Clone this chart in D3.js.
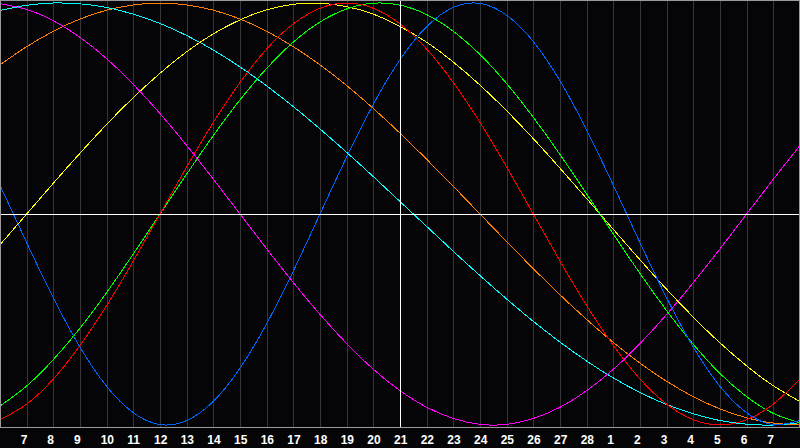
<!DOCTYPE html>
<html>
<head>
<meta charset="utf-8">
<script src="https://cdn.jsdelivr.net/npm/d3@7"></script>
<style>
  html, body { margin: 0; padding: 0; background: #050507; }
  svg { display: block; }
  .lbl { font-family: "Liberation Sans", Arial, sans-serif; font-weight: bold; font-size: 12px; fill: #ffffff; }
</style>
</head>
<body>
<svg id="chart" width="800" height="448"></svg>
<script>
// day labels under each grid line (Feb 7 .. Mar 7)
const days = [7, 8, 9, 10, 11, 12, 13, 14, 15, 16, 17, 18, 19, 20, 21,
              22, 23, 24, 25, 26, 27, 28, 1, 2, 3, 4, 5, 6, 7];

// cycle values read at each grid step (index 0 = left edge, 30 = right edge)
const physical = [0.136, -0.136, -0.398, -0.631, -0.817, -0.942, -0.998, -0.979, -0.888, -0.731,
  -0.520, -0.270, 0, 0.270, 0.520, 0.731, 0.888, 0.979, 0.998, 0.942,
  0.817, 0.631, 0.398, 0.136, -0.136, -0.398, -0.631, -0.817, -0.942, -0.998, -0.979];
const emotional = [-0.975, -0.901, -0.782, -0.623, -0.434, -0.223, 0, 0.223, 0.434, 0.623,
  0.782, 0.901, 0.975, 1.0, 0.975, 0.901, 0.782, 0.623, 0.434, 0.223,
  0, -0.223, -0.434, -0.623, -0.782, -0.901, -0.975, -1.0, -0.975, -0.901, -0.782];
const intellectual = [-0.910, -0.815, -0.690, -0.541, -0.372, -0.189, 0, 0.189, 0.372, 0.541,
  0.690, 0.815, 0.910, 0.972, 0.999, 0.990, 0.945, 0.866, 0.756, 0.618,
  0.458, 0.282, 0.095, -0.095, -0.282, -0.458, -0.618, -0.756, -0.866, -0.945, -0.990];
const intuitive = [0.997, 0.969, 0.916, 0.837, 0.736, 0.614, 0.476, 0.325, 0.165, 0,
  -0.165, -0.325, -0.476, -0.614, -0.736, -0.837, -0.916, -0.969, -0.997, -0.997,
  -0.969, -0.916, -0.837, -0.736, -0.614, -0.476, -0.325, -0.165, 0, 0.165, 0.325];
const aesthetic = [-0.146, 0, 0.146, 0.288, 0.425, 0.552, 0.667, 0.769, 0.854, 0.920,
  0.968, 0.994, 0.999, 0.983, 0.947, 0.889, 0.814, 0.720, 0.611, 0.489,
  0.357, 0.217, 0.073, -0.073, -0.217, -0.357, -0.489, -0.611, -0.720, -0.814, -0.889];
const awareness = [0.707, 0.793, 0.866, 0.924, 0.966, 0.991, 1.0, 0.991, 0.966, 0.924,
  0.866, 0.793, 0.707, 0.609, 0.500, 0.383, 0.259, 0.131, 0, -0.131,
  -0.259, -0.383, -0.500, -0.609, -0.707, -0.793, -0.866, -0.924, -0.966, -0.991, -1.0];
const spiritual = [0.965, 0.989, 1.0, 0.996, 0.979, 0.947, 0.903, 0.846, 0.777, 0.697,
  0.607, 0.509, 0.403, 0.292, 0.177, 0.059, -0.059, -0.177, -0.292, -0.403,
  -0.509, -0.607, -0.697, -0.777, -0.846, -0.903, -0.947, -0.979, -0.996, -1.0, -0.989];

const seriesList = [
  { name: 'awareness', values: awareness, color: '#ff8000' },
  { name: 'spiritual', values: spiritual, color: '#00ffff' },
  { name: 'intuitive', values: intuitive, color: '#ff00ff' },
  { name: 'aesthetic', values: aesthetic, color: '#ffff00' },
  { name: 'intellectual', values: intellectual, color: '#00ff00' },
  { name: 'emotional', values: emotional, color: '#ff0000' },
  { name: 'physical', values: physical, color: '#0064ff' }
];

const width = 800;
const plotBottom = 427;

const svg = d3.select('#chart');

const x = d3.scaleLinear().domain([0, 30]).range([0, width]);
const y = d3.scaleLinear().domain([-1, 1]).range([425, 3]);

svg.append('rect')
  .attr('x', 0).attr('y', 0)
  .attr('width', width).attr('height', 448)
  .attr('fill', '#050507');

svg.append('clipPath').attr('id', 'plotClip')
  .append('rect')
  .attr('x', 0).attr('y', 0)
  .attr('width', width).attr('height', plotBottom);

// vertical day grid
const gridIdx = d3.range(1, days.length + 1);
svg.append('g')
  .selectAll('line')
  .data(gridIdx)
  .enter().append('line')
  .attr('x1', d => Math.round(x(d)) + 0.5)
  .attr('x2', d => Math.round(x(d)) + 0.5)
  .attr('y1', 0)
  .attr('y2', plotBottom)
  .attr('stroke', '#363636')
  .attr('stroke-width', 1);

// curves
const line = d3.line()
  .x((d, i) => x(i))
  .y(d => y(d))
  .curve(d3.curveNatural);

svg.append('g')
  .attr('clip-path', 'url(#plotClip)')
  .selectAll('path')
  .data(seriesList)
  .enter().append('path')
  .attr('d', d => line(d.values))
  .attr('fill', 'none')
  .attr('stroke', d => d.color)
  .attr('stroke-width', 1)
  .attr('shape-rendering', 'crispEdges');

// center axes (today + zero line)
svg.append('line')
  .attr('x1', 0).attr('x2', width)
  .attr('y1', y(0) + 0.5).attr('y2', y(0) + 0.5)
  .attr('stroke', '#ffffff').attr('stroke-width', 1);

svg.append('line')
  .attr('x1', Math.round(x(15)) + 0.5).attr('x2', Math.round(x(15)) + 0.5)
  .attr('y1', 0).attr('y2', plotBottom)
  .attr('stroke', '#ffffff').attr('stroke-width', 1);

// frame
svg.append('rect')
  .attr('x', 0.5).attr('y', 0.5)
  .attr('width', width - 1).attr('height', plotBottom)
  .attr('fill', 'none')
  .attr('stroke', '#9a9a9a')
  .attr('stroke-width', 1);

// day labels
svg.append('g')
  .selectAll('text')
  .data(days)
  .enter().append('text')
  .attr('class', 'lbl')
  .attr('x', (d, i) => x(i + 1) - 6)
  .attr('y', 444)
  .text(d => d);
</script>
</body>
</html>
